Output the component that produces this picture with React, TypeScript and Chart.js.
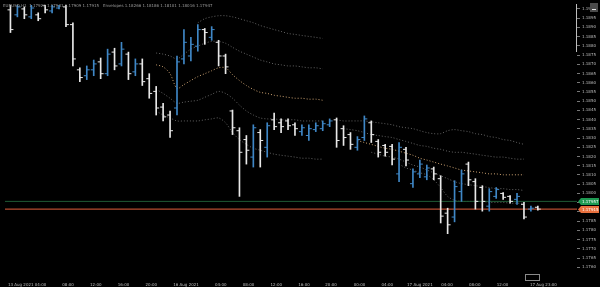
import { useEffect, useRef } from "react";
import { Chart, registerables } from "chart.js";
Chart.register(...registerables);

// ---- OHLC bars (one per hour, index = bar number) ----
const opens = [1.18995,1.18968,1.19000,1.18957,1.18968,1.19021,1.18989,1.19005,1.19011,1.18915,
1.18670,1.18638,1.18670,1.18713,1.18649,1.18766,1.18702,1.18755,1.18659,1.18702,
1.18622,1.18553,1.18468,1.18425,1.18463,1.18729,1.18745,1.18798,1.18888,1.18846,
1.18819,1.18745,1.18447,1.18340,1.18292,1.18197,1.18330,1.18250,1.18399,1.18383,
1.18393,1.18372,1.18335,1.18314,1.18346,1.18351,1.18372,1.18399,1.18351,1.18319,
1.18250,1.18303,1.18383,1.18282,1.18260,1.18255,1.18106,1.18239,1.18053,1.18106,
1.18090,1.18133,1.18080,1.17893,1.17872,1.18010,1.18159,1.18064,1.18032,1.17931,
1.17984,1.18000,1.17984,1.17968,1.17941,1.17915,1.17925];
const highs = [1.19021,1.19037,1.19011,1.19032,1.18979,1.19037,1.19021,1.19043,1.19021,1.18925,
1.18681,1.18691,1.18723,1.18734,1.18782,1.18787,1.18819,1.18766,1.18729,1.18729,
1.18649,1.18580,1.18489,1.18447,1.18745,1.18888,1.18846,1.18915,1.18894,1.18904,
1.18830,1.18755,1.18452,1.18356,1.18314,1.18372,1.18346,1.18383,1.18436,1.18404,
1.18404,1.18383,1.18372,1.18372,1.18383,1.18393,1.18404,1.18409,1.18367,1.18330,
1.18308,1.18420,1.18393,1.18292,1.18266,1.18266,1.18276,1.18250,1.18133,1.18181,
1.18154,1.18143,1.18096,1.17920,1.18069,1.18127,1.18170,1.18080,1.18042,1.18026,
1.18032,1.18005,1.17989,1.18000,1.17952,1.17931,1.17931];
const lows = [1.18872,1.18957,1.18947,1.18947,1.18936,1.18979,1.18979,1.19000,1.18904,1.18691,
1.18606,1.18617,1.18638,1.18622,1.18638,1.18670,1.18691,1.18617,1.18638,1.18585,
1.18516,1.18425,1.18393,1.18303,1.18425,1.18702,1.18718,1.18771,1.18808,1.18830,
1.18691,1.18649,1.18319,1.17984,1.18159,1.18143,1.18143,1.18197,1.18346,1.18330,
1.18346,1.18314,1.18314,1.18287,1.18335,1.18340,1.18362,1.18250,1.18260,1.18239,
1.18234,1.18287,1.18276,1.18197,1.18202,1.18154,1.18064,1.18149,1.18032,1.18085,
1.18074,1.18074,1.17840,1.17782,1.17846,1.17957,1.18042,1.17915,1.17904,1.17904,
1.17973,1.17968,1.17947,1.17941,1.17862,1.17904,1.17909];
const closes = [1.18888,1.19011,1.18968,1.19005,1.18947,1.18995,1.19011,1.19032,1.18915,1.18729,
1.18628,1.18670,1.18702,1.18649,1.18755,1.18691,1.18782,1.18649,1.18702,1.18606,
1.18542,1.18463,1.18415,1.18340,1.18713,1.18819,1.18808,1.18888,1.18872,1.18888,
1.18745,1.18686,1.18356,1.18223,1.18234,1.18356,1.18287,1.18367,1.18362,1.18362,
1.18367,1.18351,1.18356,1.18351,1.18367,1.18378,1.18393,1.18287,1.18303,1.18266,
1.18292,1.18404,1.18319,1.18223,1.18223,1.18186,1.18250,1.18181,1.18117,1.18159,
1.18138,1.18106,1.17877,1.17830,1.18037,1.18106,1.18074,1.17957,1.17957,1.18010,
1.18021,1.17979,1.17957,1.17984,1.17872,1.17920,1.17915];

// ---- envelope bands, two sessions (start index + values) ----
const band1Start = 27;
const band1 = [1.18925,1.18947,1.18957,1.18963,1.18963,1.18957,1.18947,1.18936,1.18925,1.18910,1.18899,1.18888,1.18878,1.18867,1.18862,1.18856,1.18851,1.18846,1.18840];
const band2Start = 21;
const band2 = [1.18761,1.18755,1.18745,1.18729,1.18755,1.18782,1.18798,1.18814,1.18824,1.18824,1.18814,1.18792,1.18771,1.18755,1.18739,1.18723,1.18713,1.18702,1.18697,1.18691,1.18691,1.18686,1.18681,1.18681,1.18675];
const mid1Start = 21;
const mid1 = [1.18697,1.18686,1.18649,1.18569,1.18590,1.18612,1.18633,1.18649,1.18665,1.18681,1.18681,1.18644,1.18612,1.18585,1.18564,1.18548,1.18542,1.18532,1.18527,1.18521,1.18516,1.18516,1.18511,1.18511,1.18505];
const band4Start = 21;
const band4 = [1.18564,1.18542,1.18516,1.18489,1.18495,1.18500,1.18505,1.18521,1.18537,1.18553,1.18542,1.18516,1.18479,1.18447,1.18425,1.18409,1.18404,1.18404,1.18399,1.18399,1.18399,1.18393,1.18393,1.18393,1.18393];
const band5Start = 21;
const band5 = [1.18447,1.18425,1.18409,1.18393,1.18393,1.18393,1.18393,1.18399,1.18404,1.18409,1.18383,1.18330,1.18292,1.18266,1.18245,1.18234,1.18223,1.18213,1.18207,1.18202,1.18197,1.18191,1.18191,1.18186,1.18186];

const band1bStart = 47;
const band1b = [1.18399,1.18393,1.18393,1.18393,1.18393,1.18388,1.18383,1.18378,1.18372,1.18362,1.18356,1.18351,1.18340,1.18330,1.18324,1.18324,1.18340,1.18346,1.18340,1.18335,1.18324,1.18319,1.18308,1.18303,1.18292,1.18287,1.18276,1.18266];
const band2bStart = 48;
const band2b = [1.18351,1.18346,1.18340,1.18330,1.18319,1.18314,1.18308,1.18303,1.18292,1.18282,1.18271,1.18260,1.18255,1.18245,1.18239,1.18229,1.18223,1.18223,1.18218,1.18213,1.18207,1.18202,1.18197,1.18197,1.18191,1.18186,1.18186];
const mid2Start = 50;
const mid2 = [1.18287,1.18276,1.18266,1.18255,1.18245,1.18239,1.18229,1.18218,1.18207,1.18191,1.18181,1.18170,1.18159,1.18149,1.18138,1.18127,1.18122,1.18117,1.18112,1.18106,1.18106,1.18101,1.18101,1.18101,1.18101];
const band4bStart = 52;
const band4b = [1.18223,1.18213,1.18202,1.18197,1.18186,1.18170,1.18154,1.18143,1.18127,1.18112,1.18096,1.18080,1.18064,1.18053,1.18048,1.18042,1.18037,1.18032,1.18026,1.18026,1.18021,1.18021,1.18016];
const band5bStart = 56;
const band5b = [1.18159,1.18138,1.18127,1.18112,1.18101,1.18074,1.18032,1.17984,1.17963,1.17957,1.17957,1.17957,1.17957,1.17952,1.17952,1.17952,1.17947,1.17947,1.17947];

// ---- price lines ----
const askPrice = 1.17957;
const lastPrice = 1.17915;

// ---- axis ticks ----
const yTicks = [1.1900,1.1895,1.1890,1.1885,1.1880,1.1875,1.1870,1.1865,1.1860,1.1855,1.1850,1.1845,1.1840,1.1835,1.1830,1.1825,1.1820,1.1815,1.1810,1.1805,1.1800,1.1795,1.1790,1.1785,1.1780,1.1775,1.1770,1.1765,1.1760];
const xTickPos = [2.4, 8.3, 12.3, 16.3, 20.3, 25.3, 30.3, 34.3, 38.3, 42.3, 46.2, 50.3, 54.3, 59.0, 62.9, 66.9, 70.9, 76.8];
const xTickLabels = ["13 Aug 2021 04:00", "08:00", "12:00", "16:00", "20:00", "16 Aug 2021", "04:00", "08:00", "12:00", "16:00", "20:00", "00:00", "04:00", "17 Aug 2021", "04:00", "08:00", "12:00", "17 Aug 23:00"];
const headerText = "EURUSD,H1  1.17920 1.17931 1.17909 1.17915   Envelopes 1.18266 1.18186 1.18101 1.18016 1.17947";

const X_MIN = -5.5 / 7;
const X_MAX = (577 - 5.5) / 7;
const Y_MAX = 1.1902128;
const Y_MIN = 1.1757424;

const UP = "#3f87c6";
const DOWN = "#e8e8e8";
const FONT = "DejaVu Sans";

export default function App() {
  const ref = useRef<HTMLCanvasElement | null>(null);
  useEffect(() => {
    document.body.style.margin = "0";
    document.body.style.background = "#000";
    const canvas = ref.current!;
    const colors = closes.map((c, i) => (c >= opens[i] ? UP : DOWN));
    const seg = (start: number, arr: number[]) => arr.map((v, k) => ({ x: start + k, y: v }));
    const bandDs = (start: number, arr: number[], color: string) => ({
      type: "line" as const,
      data: seg(start, arr),
      borderColor: color,
      borderWidth: 1,
      borderDash: [1, 2],
      pointRadius: 0,
      tension: 0.3,
      order: 10,
    });
    const gray = "rgba(140,140,140,0.7)";
    const tan = "#c9a070";
    const hLine = (p: number, color: string) => ({
      type: "line" as const,
      data: [{ x: X_MIN, y: p }, { x: X_MAX, y: p }],
      borderColor: color,
      borderWidth: 1,
      pointRadius: 0,
      order: 5,
    });

    const overlay = {
      id: "overlay",
      beforeDraw(chart: any) {
        const ctx = chart.ctx;
        ctx.save();
        ctx.fillStyle = "#000";
        ctx.fillRect(0, 0, chart.width, chart.height);
        ctx.restore();
      },
      afterDraw(chart: any) {
        const ctx = chart.ctx;
        const ys = chart.scales.y;
        ctx.save();
        ctx.font = `4px ${FONT}`;
        ctx.fillStyle = "#9a9a9a";
        ctx.textBaseline = "middle";
        ctx.textAlign = "left";
        ctx.fillText(headerText, 3, 6);
        const tag = (p: number, bg: string) => {
          const y = Math.round(ys.getPixelForValue(p)) + 0.5;
          ctx.fillStyle = bg;
          ctx.beginPath();
          ctx.moveTo(578, y);
          ctx.lineTo(581, y - 3.5);
          ctx.lineTo(599, y - 3.5);
          ctx.lineTo(599, y + 3.5);
          ctx.lineTo(581, y + 3.5);
          ctx.closePath();
          ctx.fill();
          ctx.fillStyle = "#ffffff";
          ctx.font = `4px ${FONT}`;
          ctx.textAlign = "left";
          ctx.fillText(p.toFixed(5), 582, y);
        };
        tag(askPrice, "#1e9a52");
        tag(lastPrice, "#e8703e");
        ctx.strokeStyle = "#bdbdbd";
        ctx.lineWidth = 1;
        ctx.beginPath();
        ctx.moveTo(576.5, 4);
        ctx.lineTo(576.5, 52);
        ctx.stroke();
        ctx.fillStyle = "#4a4a4a";
        ctx.fillRect(590, 3, 8, 9);
        ctx.fillStyle = "#e0e0e0";
        ctx.fillRect(592, 9, 4, 1);
        ctx.strokeStyle = "#8a8a8a";
        ctx.strokeRect(525.5, 274.5, 14, 6);
        ctx.restore();
      },
    };

    const chart = new Chart(canvas, {
      type: "bar",
      data: {
        datasets: [
          {
            type: "scatter" as const,
            data: opens.map((o, i) => ({ x: i - 0.21, y: o })),
            pointStyle: "line",
            pointRadius: 1.5,
            pointBorderWidth: 1,
            pointBorderColor: colors,
            pointBackgroundColor: colors,
            order: 1,
          },
          {
            type: "scatter" as const,
            data: closes.map((c, i) => ({ x: i + 0.21, y: c })),
            pointStyle: "line",
            pointRadius: 1.5,
            pointBorderWidth: 1,
            pointBorderColor: colors,
            pointBackgroundColor: colors,
            order: 1,
          },
          {
            type: "bar" as const,
            data: highs.map((h, i) => ({ x: i, y: [lows[i], h] })) as any,
            backgroundColor: colors,
            borderWidth: 0,
            barThickness: 1,
            grouped: false,
            order: 2,
          },
          hLine(askPrice, "#1f5a35"),
          hLine(lastPrice, "#e2603c"),
          bandDs(band1Start, band1, gray),
          bandDs(band2Start, band2, gray),
          bandDs(mid1Start, mid1, tan),
          bandDs(band4Start, band4, gray),
          bandDs(band5Start, band5, gray),
          bandDs(band1bStart, band1b, gray),
          bandDs(band2bStart, band2b, gray),
          bandDs(mid2Start, mid2, tan),
          bandDs(band4bStart, band4b, gray),
          bandDs(band5bStart, band5b, gray),
        ] as any,
      },
      options: {
        responsive: false,
        animation: false,
        devicePixelRatio: 1,
        layout: { padding: 0 },
        plugins: { legend: { display: false }, tooltip: { enabled: false } },
        scales: {
          x: {
            type: "linear",
            min: X_MIN,
            max: X_MAX,
            offset: false,
            grid: { display: false },
            border: { display: false },
            afterFit: (s: any) => { s.height = 15; },
            afterBuildTicks: (s: any) => { s.ticks = xTickPos.map((v) => ({ value: v })); },
            ticks: {
              autoSkip: false,
              maxRotation: 0,
              padding: 3,
              color: "#bcbcbc",
              font: { size: 4, family: FONT },
              callback: (_v: any, idx: number) => xTickLabels[idx],
            },
          },
          y: {
            position: "right",
            min: Y_MIN,
            max: Y_MAX,
            grid: { drawOnChartArea: false, drawTicks: true, tickLength: 3, color: "#777" },
            border: { display: false },
            afterFit: (s: any) => { s.width = 23; },
            afterBuildTicks: (s: any) => { s.ticks = yTicks.map((v) => ({ value: v })); },
            ticks: {
              padding: 2,
              color: "#bcbcbc",
              font: { size: 4, family: FONT },
              callback: (v: any) => Number(v).toFixed(4),
            },
          },
        },
      },
      plugins: [overlay],
    });
    return () => chart.destroy();
  }, []);
  return (
    <div style={{ width: 600, height: 287, background: "#000" }}>
      <canvas ref={ref} width={600} height={287} style={{ display: "block" }} />
    </div>
  );
}
